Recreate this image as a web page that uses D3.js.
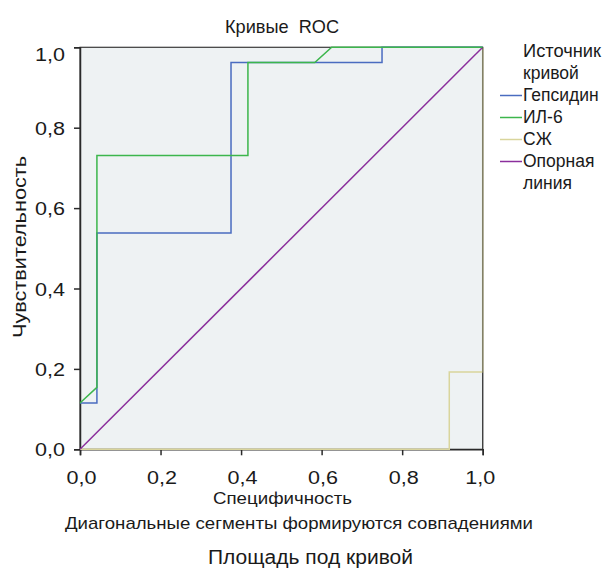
<!DOCTYPE html>
<html>
<head>
<meta charset="utf-8">
<script src="https://cdn.jsdelivr.net/npm/d3@7"></script>
<style>
  body { margin: 0; background: #fff; }
  text { font-family: "Liberation Sans", Arial, sans-serif; fill: #1a1a1a; }
</style>
</head>
<body>
<div id="chart"></div>
<script>
// ROC curves, values (x = 1 - specificity, y = sensitivity)
var hepcidinX = [0, 0.042, 0.042, 0.375, 0.375, 0.75, 0.75, 1];
var hepcidinY = [0.115, 0.115, 0.538, 0.538, 0.962, 0.962, 1, 1];

var il6X = [0, 0.042, 0.042, 0.417, 0.417, 0.583, 0.625, 1];
var il6Y = [0.115, 0.154, 0.731, 0.731, 0.962, 0.962, 1, 1];

var szhX = [0, 0.917, 0.917, 1, 1];
var szhY = [0, 0, 0.192, 0.192, 1];

var refX = [0, 1];
var refY = [0, 1];

var tickValues = [0, 0.2, 0.4, 0.6, 0.8, 1.0];
var seriesNames = ["Гепсидин", "ИЛ-6", "СЖ", "Опорная"];
var seriesColors = ["#4a6cc0", "#3cb64c", "#d9d59c", "#8b2f9c"];

var width = 606, height = 570;
var margin = { left: 80, top: 47.3, right: 123.3, bottom: 120.7 };

var svg = d3.select("#chart").append("svg")
  .attr("width", width)
  .attr("height", height);

var x = d3.scaleLinear().domain([0, 1]).range([margin.left, width - margin.right]);
var y = d3.scaleLinear().domain([0, 1]).range([height - margin.bottom, margin.top]);

// plot background
svg.append("rect")
  .attr("x", x(0)).attr("y", y(1))
  .attr("width", x(1) - x(0)).attr("height", y(0) - y(1))
  .attr("fill", "#eef2f3")
  .attr("stroke", "#3a3a3a")
  .attr("stroke-width", 1.2);

var fmt = function(d) { return d3.format(".1f")(d).replace(".", ","); };

var xAxis = svg.append("g")
  .attr("transform", "translate(0," + y(0) + ")")
  .call(d3.axisBottom(x).tickValues(tickValues).tickFormat(fmt).tickSize(6).tickPadding(16));
var yAxis = svg.append("g")
  .attr("transform", "translate(" + x(0) + ",0)")
  .call(d3.axisLeft(y).tickValues(tickValues).tickFormat(fmt).tickSize(6).tickPadding(9));

[xAxis, yAxis].forEach(function(ax) {
  ax.select(".domain").attr("stroke", "#2a2a2a").attr("stroke-width", 1.5);
  ax.selectAll(".tick line").attr("stroke", "#2a2a2a").attr("stroke-width", 1.5);
  ax.selectAll(".tick text")
    .attr("font-family", "Liberation Sans, Arial, sans-serif")
    .attr("font-size", "18.5px")
    .attr("fill", "#1a1a1a")
    .attr("textLength", 30)
    .attr("lengthAdjust", "spacingAndGlyphs");
});
yAxis.selectAll(".tick text").attr("dy", function(d) { return d === 1 ? "0.7em" : "0.36em"; });
xAxis.selectAll(".tick text").attr("dx", function(d) { return d === 1 ? -3 : 1; });

var line = d3.line()
  .x(function(d) { return x(d[0]); })
  .y(function(d) { return y(d[1]); });

var series = [
  d3.zip(szhX, szhY),
  d3.zip(refX, refY),
  d3.zip(hepcidinX, hepcidinY),
  d3.zip(il6X, il6Y)
];
var seriesIdx = [2, 3, 0, 1];

series.forEach(function(pts, i) {
  svg.append("path")
    .datum(pts)
    .attr("d", line)
    .attr("fill", "none")
    .attr("stroke", seriesColors[seriesIdx[i]])
    .attr("stroke-width", 1.5);
});

// right border drawn again on top
svg.append("line")
  .attr("x1", x(1)).attr("x2", x(1)).attr("y1", y(1)).attr("y2", y(0))
  .attr("stroke", "#3a3a3a").attr("stroke-width", 1.2).attr("opacity", 0.6);

// title
svg.append("text")
  .attr("x", 225).attr("y", 33)
  .attr("font-size", "18.5px")
  .attr("xml:space", "preserve")
  .attr("textLength", 114)
  .attr("lengthAdjust", "spacingAndGlyphs")
  .text("Кривые  ROC");

// axis titles
svg.append("text")
  .attr("transform", "translate(26,338) rotate(-90)")
  .attr("font-size", "18.5px")
  .attr("textLength", 182)
  .attr("lengthAdjust", "spacingAndGlyphs")
  .text("Чувствительность");

svg.append("text")
  .attr("x", 213).attr("y", 504)
  .attr("font-size", "17px")
  .attr("textLength", 139)
  .attr("lengthAdjust", "spacingAndGlyphs")
  .text("Специфичность");

svg.append("text")
  .attr("x", 65).attr("y", 529)
  .attr("font-size", "17px")
  .attr("textLength", 468)
  .attr("lengthAdjust", "spacingAndGlyphs")
  .text("Диагональные сегменты формируются совпадениями");

svg.append("text")
  .attr("x", 208).attr("y", 564)
  .attr("font-size", "19.5px")
  .attr("textLength", 205)
  .attr("lengthAdjust", "spacingAndGlyphs")
  .text("Площадь под кривой");

// legend
var legend = svg.append("g").attr("transform", "translate(500,0)");
legend.append("text").attr("x", 23).attr("y", 57).attr("font-size", "17.5px")
  .attr("textLength", 78).attr("lengthAdjust", "spacingAndGlyphs").text("Источник");
legend.append("text").attr("x", 23).attr("y", 79).attr("font-size", "17.5px").text("кривой");

seriesNames.forEach(function(name, i) {
  var yy = 101 + i * 22;
  legend.append("line")
    .attr("x1", 0).attr("x2", 22)
    .attr("y1", yy - 5.5).attr("y2", yy - 5.5)
    .attr("stroke", seriesColors[i]).attr("stroke-width", 1.5);
  legend.append("text").attr("x", 23).attr("y", yy).attr("font-size", "17.5px").text(name);
});
legend.append("text").attr("x", 23).attr("y", 189).attr("font-size", "17.5px").text("линия");
</script>
</body>
</html>
